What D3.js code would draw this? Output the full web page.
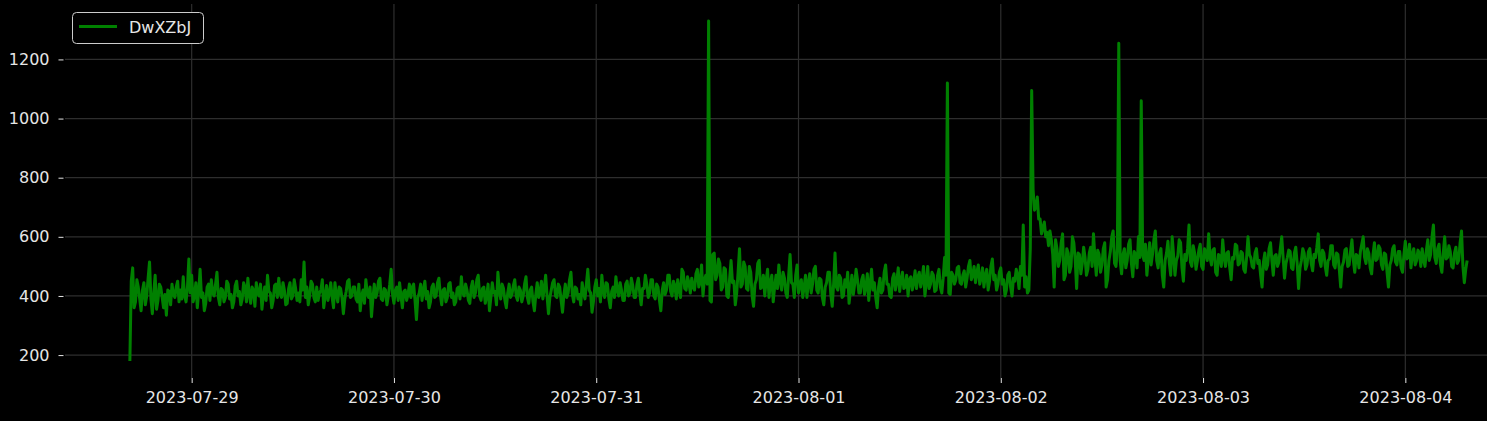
<!DOCTYPE html>
<html>
<head>
<meta charset="utf-8">
<script src="https://cdn.jsdelivr.net/npm/d3@7"></script>
<style>
  html, body { margin: 0; padding: 0; background: #000; }
  svg { display: block; font-family: "DejaVu Sans", sans-serif; }
</style>
</head>
<body>
<svg width="1487" height="421"></svg>
<script>
const seriesName = 'DwXZbJ';
const startTime = '2023-07-28T16:40:00';
const stepMinutes = 10;

// readings every 10 minutes, in four chunks
const valuesA = [
    180, 450, 495, 360, 380, 455, 430, 390, 350, 420, 445, 370, 400, 460, 515, 390, 340, 410, 470, 355, 385, 440, 430, 395, 360, 405, 335, 420, 415, 370, 440, 405, 395, 430, 450, 380, 420, 390, 465, 400,
    380, 430, 525, 410, 470, 380, 400, 445, 360, 415, 490, 395, 410, 350, 375, 430, 440, 385, 455, 410, 400, 440, 480, 395, 370, 425, 420, 380, 395, 450, 440, 390, 405, 360, 380, 435, 450, 400, 415, 370,
    390, 445, 430, 380, 460, 405, 375, 430, 420, 365, 445, 410, 400, 440, 355, 400, 430, 385, 470, 415, 410, 360, 385, 435, 440, 395, 460, 410, 395, 445, 420, 370, 375, 425, 445, 390, 400, 455, 425, 385,
    410, 380, 455, 420, 515, 395, 430, 370, 400, 450, 440, 395, 380, 430, 385, 410, 420, 455, 360, 400, 435, 385, 410, 445, 395, 360, 445, 405, 380, 430, 425, 395, 340, 390, 415, 450, 455, 395, 400, 430,
    430, 390, 380, 440, 350, 400, 420, 375, 455, 410, 395, 430, 330, 390, 440, 395, 410, 450, 460, 390, 385, 425, 420, 370, 400, 440, 490, 405, 375, 420, 430, 385, 445, 400, 360, 415, 420, 385, 405, 440,
    395, 430, 440, 385, 320, 395, 410, 440, 385, 420, 450, 390, 415, 360, 380, 430, 440, 395, 400, 445, 460, 405, 370, 420, 425, 380, 395, 440, 445, 395, 410, 370, 380, 425, 430, 390, 465, 410, 400, 440
];
const valuesB = [
    420, 385, 375, 430, 450, 395, 410, 455, 470, 400, 385, 425, 430, 375, 400, 440, 350, 395, 445, 410, 415, 370, 480, 420, 390, 440, 425, 385, 360, 410, 440, 395, 405, 435, 455, 400, 385, 430, 420, 380,
    400, 440, 465, 395, 375, 420, 430, 380, 350, 405, 445, 395, 410, 450, 390, 425, 470, 400, 340, 395, 420, 445, 455, 400, 395, 440, 430, 385, 345, 405, 440, 395, 410, 455, 480, 405, 380, 430, 425, 390,
    405, 370, 445, 410, 390, 440, 490, 420, 410, 345, 380, 430, 455, 400, 425, 380, 470, 415, 395, 445, 440, 390, 360, 415, 430, 395, 465, 420, 400, 445, 420, 385, 385, 440, 450, 400, 410, 460, 435, 395,
    395, 440, 460, 410, 370, 425, 425, 470, 440, 395, 410, 455, 455, 400, 390, 440, 430, 385, 350, 420, 445, 405, 420, 470, 470, 415, 400, 450, 435, 390, 455, 420, 395, 490, 480, 425, 420, 465, 445, 410,
    460, 430, 420, 475, 490, 430, 445, 505, 400, 455, 470, 440, 1330, 385, 380, 540, 545, 455, 470, 525, 510, 420, 430, 495, 490, 400, 395, 460, 520, 445, 450, 370, 410, 480, 560, 430, 440, 515, 500, 425,
    420, 500, 480, 400, 365, 440, 455, 510, 520, 425, 430, 470, 400, 455, 490, 395, 445, 470, 380, 430, 470, 425, 505, 450, 420, 480, 460, 410, 395, 470, 540, 445, 440, 395, 470, 505, 410, 440, 455, 395
];
const valuesC = [
    430, 470, 395, 445, 475, 410, 440, 490, 500, 420, 410, 460, 455, 395, 370, 430, 445, 480, 480, 405, 365, 440, 545, 430, 420, 470, 460, 395, 400, 455, 430, 480, 375, 420, 470, 405, 440, 490, 455, 410,
    410, 455, 470, 405, 430, 475, 385, 440, 490, 420, 445, 395, 360, 430, 460, 410, 420, 480, 505, 440, 440, 400, 395, 460, 475, 420, 450, 495, 415, 455, 480, 425, 430, 470, 400, 455, 465, 420, 445, 485,
    425, 465, 480, 430, 455, 500, 400, 445, 500, 425, 440, 480, 470, 415, 420, 470, 490, 430, 410, 460, 530, 470, 1120, 410, 405, 480, 470, 440, 455, 495, 500, 445, 440, 470, 485, 430, 460, 500, 520, 455,
    470, 500, 445, 480, 505, 440, 460, 495, 430, 470, 490, 420, 450, 500, 525, 455, 470, 420, 440, 480, 495, 440, 455, 400, 420, 470, 480, 430, 400, 460, 450, 490, 470, 425, 500, 470, 640, 430, 465, 410,
    420, 560, 1095, 760, 690, 700, 735, 660, 660, 610, 630, 650, 600, 615, 570, 620, 590, 540, 430, 590, 560, 500, 520, 580, 610, 455, 470, 560, 545, 480, 500, 600, 580, 520, 425, 545, 540, 475, 510, 565,
    530, 470, 490, 545, 565, 500, 610, 530, 470, 555, 540, 480, 505, 560, 580, 430, 455, 520, 550, 600, 620, 510, 500, 560, 1255, 520, 475, 540, 560, 495, 520, 575, 590, 510, 465, 550, 540, 495, 600, 530
];
const valuesD = [
    1060, 540, 520, 575, 470, 530, 580, 505, 540, 590, 620, 520, 495, 545, 560, 470, 430, 520, 545, 585, 510, 470, 600, 540, 470, 520, 535, 590, 580, 495, 450, 540, 520, 560, 640, 515, 500, 570, 545, 490,
    520, 555, 575, 500, 490, 560, 545, 520, 610, 530, 505, 555, 560, 480, 470, 540, 535, 500, 590, 530, 500, 545, 550, 495, 455, 530, 525, 575, 570, 505, 510, 550, 545, 490, 480, 530, 600, 540, 530, 500,
    495, 545, 560, 510, 520, 470, 430, 515, 545, 490, 505, 560, 580, 520, 470, 535, 540, 500, 515, 560, 600, 530, 460, 510, 530, 555, 550, 495, 490, 545, 565, 510, 425, 495, 520, 560, 545, 490, 505, 550,
    560, 510, 485, 540, 530, 565, 610, 520, 500, 555, 545, 500, 470, 520, 525, 570, 570, 505, 495, 545, 540, 490, 430, 500, 515, 555, 560, 500, 505, 550, 590, 520, 480, 540, 535, 495, 550, 575, 600, 530,
    510, 560, 545, 495, 475, 540, 580, 520, 525, 570, 560, 505, 490, 545, 540, 480, 430, 505, 520, 560, 570, 515, 505, 550, 550, 495, 480, 540, 585, 525, 530, 575, 495, 540, 560, 505, 520, 555, 545, 500,
    560, 520, 500, 555, 590, 520, 540, 600, 640, 530, 510, 560, 575, 505, 480, 545, 600, 525, 530, 570, 550, 500, 495, 545, 565, 510, 520, 580, 620, 500, 445, 490, 520
];

const yTicks = [200, 400, 600, 800, 1000, 1200];
const xTickLabels = ['2023-07-29', '2023-07-30', '2023-07-31', '2023-08-01', '2023-08-02', '2023-08-03', '2023-08-04'];

const parseDay = d3.timeParse('%Y-%m-%d');
const t0 = d3.timeParse('%Y-%m-%dT%H:%M:%S')(startTime);
const values = [].concat(valuesA, valuesB, valuesC, valuesD);
const data = values.map((v, i) => ({ date: d3.timeMinute.offset(t0, i * stepMinutes), value: v }));

const plotLeft = 63, plotTop = 4, plotBottom = 378, plotRight = 1534;

// matplotlib style 5% padding on both axes
const xExt = d3.extent(data, d => d.date);
const xPad = (xExt[1] - xExt[0]) * 0.05;
const x = d3.scaleTime()
    .domain([new Date(+xExt[0] - xPad), new Date(+xExt[1] + xPad)])
    .range([plotLeft, plotRight]);

const yExt = d3.extent(data, d => d.value);
const yPad = (yExt[1] - yExt[0]) * 0.05;
const y = d3.scaleLinear()
    .domain([yExt[0] - yPad, yExt[1] + yPad])
    .range([plotBottom, plotTop]);

const svg = d3.select('svg');
const textColor = '#e6e6e6';
const gridColor = '#2e2e2e';

// grid
svg.append('g')
    .selectAll('line')
    .data(yTicks)
    .enter()
    .append('line')
    .attr('x1', plotLeft + 2)
    .attr('x2', 1487)
    .attr('y1', d => y(d))
    .attr('y2', d => y(d))
    .attr('stroke', gridColor)
    .attr('stroke-width', 1.2);

svg.append('g')
    .selectAll('line')
    .data(xTickLabels)
    .enter()
    .append('line')
    .attr('x1', d => x(parseDay(d)))
    .attr('x2', d => x(parseDay(d)))
    .attr('y1', plotTop)
    .attr('y2', plotBottom)
    .attr('stroke', gridColor)
    .attr('stroke-width', 1.2);

// axes
const yAxis = svg.append('g')
    .attr('transform', `translate(${plotLeft + 0.5},0)`)
    .call(d3.axisLeft(y).tickValues(yTicks).tickFormat(d3.format('d')).tickSize(5).tickPadding(9));

const xAxis = svg.append('g')
    .attr('transform', `translate(0,${plotBottom})`)
    .call(d3.axisBottom(x).tickValues(xTickLabels.map(parseDay)).tickFormat(d3.timeFormat('%Y-%m-%d')).tickSize(5).tickPadding(9));

[yAxis, xAxis].forEach(ax => {
    ax.select('.domain').remove();
    ax.selectAll('line').attr('stroke', textColor).attr('stroke-width', 1);
    ax.selectAll('text')
        .attr('fill', textColor)
        .style('font-size', '16px')
        .style('font-family', '"DejaVu Sans", sans-serif');
});

// series
const line = d3.line()
    .x(d => x(d.date))
    .y(d => y(d.value));

svg.append('path')
    .datum(data)
    .attr('d', line)
    .attr('fill', 'none')
    .attr('stroke', '#008000')
    .attr('stroke-width', 3)
    .attr('stroke-linejoin', 'round');

// legend
const legend = svg.append('g');
legend.append('rect')
    .attr('x', 72.5)
    .attr('y', 12.5)
    .attr('width', 131)
    .attr('height', 31)
    .attr('rx', 4)
    .attr('fill', '#000')
    .attr('stroke', '#cccccc')
    .attr('stroke-width', 1);
legend.append('line')
    .attr('x1', 79)
    .attr('x2', 117)
    .attr('y1', 26.5)
    .attr('y2', 26.5)
    .attr('stroke', '#008000')
    .attr('stroke-width', 3);
legend.append('text')
    .attr('x', 129)
    .attr('y', 32.5)
    .attr('fill', textColor)
    .style('font-size', '16px')
    .text(seriesName);
</script>
</body>
</html>
